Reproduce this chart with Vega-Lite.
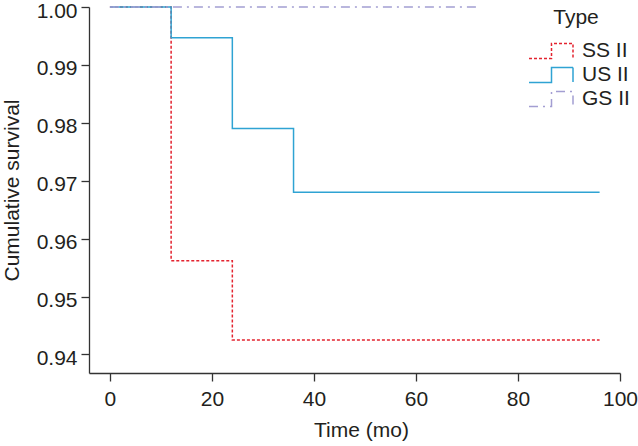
{
  "$schema": "https://vega.github.io/schema/vega-lite/v6.json",
  "width": 531,
  "height": 366,
  "autosize": {"type": "none"},
  "padding": {"left": 89, "top": 7, "right": 18, "bottom": 73},
  "background": "white",
  "config": {
    "view": {"stroke": null},
    "font": "Liberation Sans",
    "axis": {
      "grid": false,
      "domainColor": "#333333",
      "domainWidth": 1.3,
      "tickColor": "#333333",
      "tickWidth": 1.3,
      "tickSize": 8,
      "labelFont": "Liberation Sans",
      "labelFontSize": 21,
      "labelColor": "#231f20",
      "titleFont": "Liberation Sans",
      "titleFontSize": 21,
      "titleFontWeight": "normal",
      "titleColor": "#231f20"
    }
  },
  "data": {
    "values": [
      {"time": 0, "survival": 1.0, "type": "SS II"},
      {"time": 12, "survival": 0.9562, "type": "SS II"},
      {"time": 24, "survival": 0.9425, "type": "SS II"},
      {"time": 96, "survival": 0.9425, "type": "SS II"},
      {"time": 0, "survival": 1.0, "type": "US II"},
      {"time": 12, "survival": 0.9947, "type": "US II"},
      {"time": 24, "survival": 0.979, "type": "US II"},
      {"time": 36, "survival": 0.968, "type": "US II"},
      {"time": 96, "survival": 0.968, "type": "US II"},
      {"time": 0, "survival": 1.0, "type": "GS II"},
      {"time": 72, "survival": 1.0, "type": "GS II"}
    ]
  },
  "mark": {"type": "line", "interpolate": "step-after", "strokeWidth": 1.5, "clip": false},
  "encoding": {
    "x": {
      "field": "time", "type": "quantitative",
      "scale": {"domain": [-4.1, 100], "nice": false, "zero": false},
      "axis": {"values": [0, 20, 40, 60, 80, 100], "title": "Time (mo)", "labelPadding": 7, "titlePadding": 10, "titleX": 272, "labelFlush": false}
    },
    "y": {
      "field": "survival", "type": "quantitative",
      "scale": {"domain": [0.9368, 1.0], "nice": false, "zero": false},
      "axis": {"values": [0.94, 0.95, 0.96, 0.97, 0.98, 0.99, 1.0], "format": ".2f", "title": "Cumulative survival", "labelPadding": 4, "labelOffset": 4, "titlePadding": 14, "labelFlush": false}
    },
    "color": {
      "field": "type", "type": "nominal",
      "scale": {"domain": ["SS II", "US II", "GS II"], "range": ["#e3232f", "#2fa3d3", "#a39ed2"]},
      "legend": {
        "title": "Type",
        "orient": "none",
        "legendX": 451,
        "legendY": 0,
        "padding": 0,
        "titleFont": "Liberation Sans",
        "titleFontSize": 21,
        "titleFontWeight": "normal",
        "titleColor": "#231f20",
        "titleAnchor": "middle",
        "titlePadding": 12,
        "labelFont": "Liberation Sans",
        "labelFontSize": 21,
        "labelColor": "#231f20",
        "labelOffset": 20,
        "rowPadding": 2,
        "symbolSize": 400,
        "symbolStrokeWidth": 1.5,
        "symbolType": "M-2.2,0.75H0.05V-0.75H2.2V0.7",
        "encode": {
          "symbols": {"update": {"fill": {"value": "transparent"}}},
          "title": {"update": {"dx": {"value": -9}}}
        }
      }
    },
    "strokeDash": {
      "field": "type", "type": "nominal",
      "scale": {"domain": ["SS II", "US II", "GS II"], "range": [[3, 2], [1, 0], [9, 5, 2, 5]]},
      "legend": null
    }
  }
}
